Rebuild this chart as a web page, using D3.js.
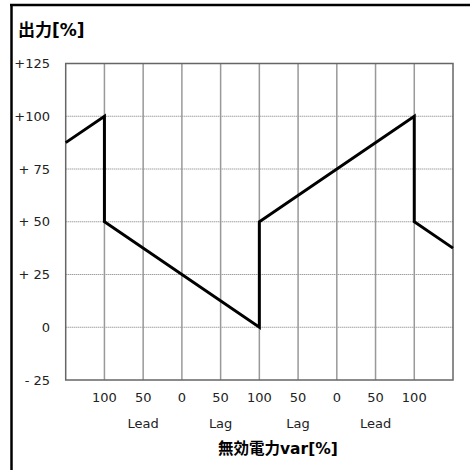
<!DOCTYPE html>
<html><head><meta charset="utf-8">
<script src="https://cdn.jsdelivr.net/npm/d3@7"></script>
<style>html,body{margin:0;padding:0;background:#fff;}</style>
</head><body>
<script>
const xTickLabels = ["100","50","0","50","100","50","0","50","100"];
const xTickPos = [1,2,3,4,5,6,7,8,9];
const sideLabels = ["Lead","Lag","Lag","Lead"];
const sidePos = [2,4,6,8];
const yTicks = [125,100,75,50,25,0,-25];
const yTickLabels = ["+125","+100","+ 75","+ 50","+ 25","0","- 25"];
const lineX = [0,1,1,5,5,9,9,10];
const lineY = [87.5,100,50,0,50,100,50,37.5];

const W=470,H=470;
const svg=d3.select("body").append("svg").attr("width",W).attr("height",H);
const font="'DejaVu Sans','Noto Sans CJK JP',sans-serif";
const L=65.7,R=453,T=63.5,B=380;
const x=d3.scaleLinear().domain([0,10]).range([L,R]);
const y=d3.scaleLinear().domain([-25,125]).range([B,T]);

// outer frame
svg.append("line").attr("x1",11.5).attr("x2",11.5).attr("y1",4).attr("y2",H).attr("stroke","#000").attr("stroke-width",2.5);
svg.append("line").attr("x1",10).attr("x2",W).attr("y1",5).attr("y2",5).attr("stroke","#000").attr("stroke-width",2.5);

// horizontal grid (dotted)
svg.append("g").selectAll("line").data(yTicks.filter(d=>d>-25&&d<125)).join("line")
  .attr("x1",L).attr("x2",R).attr("y1",d=>y(d)).attr("y2",d=>y(d))
  .attr("stroke","#777").attr("stroke-width",1).attr("stroke-dasharray","1,1");
// vertical grid
svg.append("g").selectAll("line").data(xTickPos).join("line")
  .attr("x1",d=>x(d)).attr("x2",d=>x(d)).attr("y1",T).attr("y2",B)
  .attr("stroke","#999").attr("stroke-width",1.5);
// plot border
svg.append("rect").attr("x",L).attr("y",T).attr("width",R-L).attr("height",B-T)
  .attr("fill","none").attr("stroke","#666").attr("stroke-width",1.5);

// y labels
svg.append("g").selectAll("text").data(yTicks).join("text")
  .attr("x",50).attr("y",d=>y(d)).attr("dy","0.35em").attr("text-anchor","end")
  .attr("font-family",font).attr("font-size",13).attr("fill","#222")
  .text((d,i)=>yTickLabels[i]);
// x tick labels
svg.append("g").selectAll("text").data(xTickPos).join("text")
  .attr("x",d=>x(d)).attr("y",397).attr("dy","0.35em").attr("text-anchor","middle")
  .attr("font-family",font).attr("font-size",13).attr("fill","#222")
  .text((d,i)=>xTickLabels[i]);
svg.append("g").selectAll("text").data(sidePos).join("text")
  .attr("x",d=>x(d)).attr("y",423).attr("dy","0.35em").attr("text-anchor","middle")
  .attr("font-family",font).attr("font-size",13).attr("fill","#222")
  .text((d,i)=>sideLabels[i]);

// titles
svg.append("text").attr("x",18).attr("y",30).attr("dy","0.35em")
  .attr("font-family",font).attr("font-size",17).attr("font-weight","bold").text("出力[%]");
svg.append("text").attr("x",218).attr("y",449).attr("dy","0.35em")
  .attr("font-family",font).attr("font-size",15.5).attr("font-weight","bold").text("無効電力var[%]");

// data line
const pts=lineX.map((v,i)=>[v,lineY[i]]);
svg.append("path").datum(pts)
  .attr("d",d3.line().x(d=>x(d[0])).y(d=>y(d[1])))
  .attr("fill","none").attr("stroke","#000").attr("stroke-width",3).attr("stroke-linejoin","miter");
</script>
</body></html>
